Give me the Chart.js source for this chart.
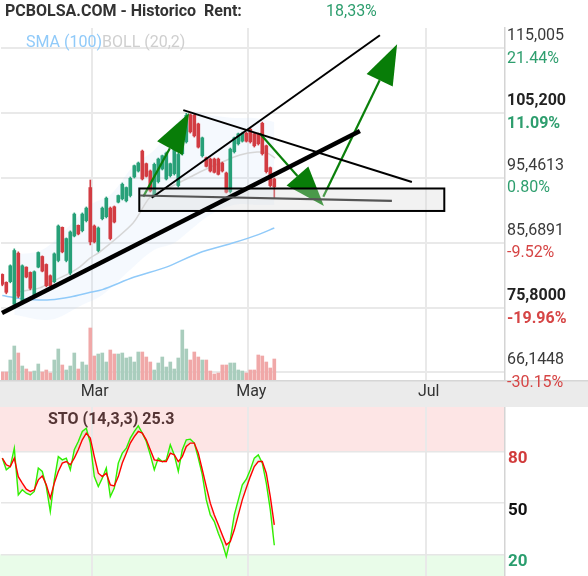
<!DOCTYPE html>
<html><head><meta charset="utf-8">
<script src="https://cdn.jsdelivr.net/npm/chart.js@4.4.1/dist/chart.umd.min.js"></script>
<style>
html,body{margin:0;padding:0;background:#fff;}
#wrap{position:relative;width:588px;height:576px;overflow:hidden;background:#fff;}
#c1{position:absolute;left:0;top:0;}
#c2{position:absolute;left:0;top:407px;}
</style></head><body>
<div id="wrap">
<canvas id="c1" width="588" height="407"></canvas>
<canvas id="c2" width="588" height="169"></canvas>
</div>
<script>
// ---------- DATA ----------
const openP  = [80.9,79.7,79.8,76.4,84.1,76.9,82.0,81.2,77.7,82.0,83.6,82.4,80.7,79.8,83.0,88.0,83.0,81.1,86.7,88.3,87.5,89.0,94.0,88.2,84.5,89.3,89.6,90.9,91.1,91.8,92.3,92.0,92.8,95.6,96.5,99.5,97.6,96.5,92.8,94.9,96.8,95.3,95.8,96.1,94.3,99.1,100.9,105.0,104.9,103.6,98.8,98.5,98.3,98.3,98.3,97.7,96.2,93.4,99.4,100.6,101.0,102.2,102.8,102.1,102.1,103.7,100.3,97.0,95.3];
const highP  = [80.98,79.78,82.34,84.75,84.30,82.34,82.04,81.28,81.43,84.30,83.69,82.49,80.83,84.15,88.36,88.06,86.40,87.46,90.17,88.36,90.17,91.07,95.14,88.36,88.06,91.07,92.58,91.07,91.22,92.88,94.69,94.09,95.59,97.40,97.85,99.66,97.70,96.65,97.70,98.45,98.90,99.36,97.70,99.96,99.21,102.22,105.20,105.10,105.05,103.72,101.62,98.60,98.45,98.45,98.45,97.85,96.34,99.96,101.62,102.22,102.37,102.37,102.97,102.22,102.22,103.87,100.41,97.10,95.44];
const lowP   = [79.18,77.97,79.63,75.80,77.37,76.62,80.38,78.57,77.52,81.89,81.28,79.03,79.03,79.63,82.79,84.15,82.79,80.83,86.56,86.86,87.31,88.81,85.35,85.65,84.30,89.12,89.42,86.10,88.66,91.68,92.13,91.83,92.58,95.44,96.34,95.14,95.59,93.33,92.58,94.69,96.65,95.14,95.59,95.89,94.09,98.90,100.71,102.22,101.62,99.96,98.60,97.10,96.34,96.19,95.89,96.34,93.18,93.18,99.21,100.41,100.86,100.86,100.71,100.11,100.41,98.90,96.19,94.09,92.43];
const closeP = [79.4,78.2,82.2,84.5,77.6,82.2,80.5,78.8,81.3,84.2,81.4,79.2,79.2,84.0,88.2,84.3,86.3,87.3,90.0,87.0,90.0,90.9,85.8,85.8,87.9,90.9,92.4,86.3,88.8,92.8,94.5,94.0,95.4,97.3,97.7,95.3,95.7,93.5,97.5,98.3,98.8,99.2,97.6,99.8,99.0,102.1,104.9,102.4,101.8,100.1,101.5,97.2,96.5,96.3,96.0,96.5,93.3,99.8,101.5,102.1,102.2,101.0,100.9,100.3,100.6,99.1,96.4,94.3,94.1];
const volume = [8,8,20,34,27,14,11,8,9,16,8,10,7,20,31,15,10,14,27,11,18,15,52,24,26,27,18,30,26,26,27,22,23,18,28,28,23,18,10,17,23,13,18,11,22,50,31,20,28,23,20,20,9,6,7,15,15,17,17,10,9,7,10,10,25,24,18,12,21];

const sma100X = [0,4,8,12,17,22,25,33,41,49,58,64,68];
const sma100Y = [77.7,77.3,77.07,77.07,77.5,78.2,78.6,80.5,82.0,84.1,85.7,86.9,87.9];
const bollMidX = [3,7,9.4,12,14.4,17,19.4,22,24.4,32.7,37,42,47,49.4,54.4,59.4,63.7,66.2,68.2];
const bollMidY = [78.12,78.57,78.87,79.63,80.38,81.13,82.04,83.39,84.3,88.66,92.58,94.09,95.59,96.34,97.7,98.9,99.36,99.21,98.45];
const bollUpX = [3,10,17,22,27,33,38,43,47,52,58,63,68];
const bollUpY = [83.85,84.6,88.36,91.4,92.9,97.4,99.66,103.4,105.4,104.9,104.5,104.5,103.9];
const bollLoX = [3,12,20,25,32,38,43,47,52,58,63,68];
const bollLoY = [74.8,74.06,76.3,77.8,81.6,84.6,85.65,87.6,89.9,91.4,91.4,91.4];

const stoK = [76.2,69.4,71.3,82.0,54.7,57.7,55.7,54.7,56.7,70.4,68.4,59.6,45.0,63.5,77.1,75.2,76.2,69.4,81.1,85.9,91.8,93.7,85.0,65.4,59.6,64.5,70.4,53.7,58.7,73.3,79.1,82.0,87.9,91.8,95.1,90.8,85.9,78.1,69.4,76.2,74.2,75.2,84.0,78.1,68.4,81.1,86.9,87.3,85.0,76.2,66.4,51.8,43.0,39.1,32.3,26.5,18.7,28.4,43.0,51.8,60.6,63.9,69.4,76.2,78.1,73.3,61.6,46.0,25.3];
const stoD = [76.2,72.3,71.3,76.2,65.4,61.6,58.1,56.7,57.7,63.5,65.8,60.6,52.8,61.6,68.4,73.3,74.2,72.3,76.2,81.1,86.9,90.8,87.9,77.1,67.4,65.4,67.4,60.6,60.0,65.4,73.3,79.1,85.0,88.8,91.8,90.8,86.9,81.1,75.2,74.8,74.2,74.2,79.1,78.1,74.2,77.1,83.0,85.0,85.0,79.1,69.4,59.6,49.9,43.0,37.2,31.3,25.5,27.4,34.3,43.0,51.8,58.7,65.4,71.3,74.2,74.2,67.4,53.7,37.2];

const priceTicks = [115.005,105.2,95.4613,85.6891,75.8,66.1448];
const priceTickLabels = ['115,005','105,200','95,4613','85,6891','75,8000','66,1448'];
const pctLabels = ['21.44%','11.09%','0.80%','-9.52%','-19.96%','-30.15%'];
const boldTicks = ['105,200','75,8000'];
const monthLabels = ['Mar','May','Jul'];
const monthIdx = [22.35,61.5,105.85];
const stoTicks = [80,50,20];
const stoTickLabels = ['80','50','20'];

// drawings in (candle index, price)
const thickLine = [[-0.08,75.06],[89.4,102.52]];
const thinLines = [[[37.35,92.47],[94.4,116.98]],[[45.25,105.68],[102.4,94.84]]];
const boxRange = [[34.25,93.86],[110.5,90.47]];
const greyLine = [[34.4,92.8],[97.4,91.98]];
const arrows = [[[35.25,92.63],[46.7,105.23]],[[64.4,102.17],[80.4,91.22]],[[80.25,92.62],[98.7,115.62]]];

// ---------- CHARTS ----------
Chart.defaults.font.family = 'Roboto';
const GREEN = '#27a078', RED = '#d23c42';
const idx = openP.map((_, i) => i);
const up = idx.map(i => closeP[i] >= openP[i]);
const pts = (xs, ys) => xs.map((x, i) => ({x, y: ys[i]}));

const X_MIN = -0.325, X_MAX = 125.675;

const mainPlugin = {
  id: 'mainPlugin',
  beforeDraw(chart) {
    const c = chart.ctx;
    c.save();
    c.fillStyle = '#fff'; c.fillRect(0, 0, chart.width, chart.height);
    const b = chart.chartArea.bottom;
    c.fillStyle = '#ebebeb'; c.fillRect(0, b, chart.width, chart.height - b);
    c.fillStyle = '#d6d6d6'; c.fillRect(0, b, chart.width, 1.5);
    c.restore();
  },
  afterDatasetsDraw(chart) {
    const c = chart.ctx, xs = chart.scales.x, ys = chart.scales.y;
    const P = p => [xs.getPixelForValue(p[0]), ys.getPixelForValue(p[1])];
    const line = (a, b, w, col) => {
      const A = P(a), B = P(b);
      c.beginPath(); c.moveTo(A[0], A[1]); c.lineTo(B[0], B[1]);
      c.lineWidth = w; c.strokeStyle = col; c.lineCap = 'butt'; c.stroke();
    };
    c.save();
    arrows.forEach(([a, b]) => {
      const A = P(a), B = P(b);
      const dx = B[0] - A[0], dy = B[1] - A[1], L = Math.hypot(dx, dy);
      const ux = dx / L, uy = dy / L, hl = 40, hw = 14.5;
      const bx = B[0] - ux * hl, by = B[1] - uy * hl;
      c.beginPath(); c.moveTo(A[0], A[1]); c.lineTo(bx, by);
      c.lineWidth = 2.2; c.strokeStyle = '#0a800a'; c.stroke();
      c.beginPath(); c.moveTo(B[0], B[1]);
      c.lineTo(bx - uy * hw, by + ux * hw); c.lineTo(bx + uy * hw, by - ux * hw);
      c.closePath(); c.fillStyle = '#087d08'; c.fill();
    });
    const b1 = P(boxRange[0]), b2 = P(boxRange[1]);
    c.fillStyle = 'rgba(215,215,215,0.32)';
    c.fillRect(b1[0], b1[1], b2[0] - b1[0], b2[1] - b1[1]);
    line(thickLine[0], thickLine[1], 4.5, '#000');
    thinLines.forEach(l => line(l[0], l[1], 2, '#000'));
    c.lineWidth = 2; c.strokeStyle = '#000';
    c.strokeRect(b1[0], b1[1], b2[0] - b1[0], b2[1] - b1[1]);
    line(greyLine[0], greyLine[1], 2.2, '#555');
    c.restore();
  },
  afterDraw(chart) {
    const c = chart.ctx, ys = chart.scales.y;
    c.save();
    c.textBaseline = 'middle'; c.textAlign = 'left';
    c.font = 'bold 16px Roboto'; c.fillStyle = '#333';
    c.fillText('PCBOLSA.COM - Historico  Rent:', 5, 12);
    c.font = '16px Roboto'; c.fillStyle = '#2e9e6e';
    c.fillText('18,33%', 326, 12);
    c.fillStyle = '#90caf9'; c.fillText('SMA (100)', 26, 43);
    const w = c.measureText('SMA (100)').width;
    c.fillStyle = '#cfcfcf'; c.fillText('BOLL (20,2)', 26 + w, 43);
    const rx = chart.chartArea.right + 2;
    priceTicks.forEach((v, i) => {
      const y = ys.getPixelForValue(v);
      const bold = boldTicks.includes(priceTickLabels[i]);
      c.font = (bold ? 'bold ' : '') + '16px Roboto';
      c.fillStyle = bold ? '#222' : '#3a3a3a';
      c.fillText(priceTickLabels[i], rx, y - 12);
      c.fillStyle = pctLabels[i].startsWith('-') ? '#d64545' : '#2e9e6e';
      c.fillText(pctLabels[i], rx, y + 10.5);
    });
    c.restore();
  }
};

new Chart(document.getElementById('c1'), {
  data: {
    datasets: [
      {type: 'bar', data: idx.map(i => ({x: i, y: [openP[i], closeP[i]]})),
       backgroundColor: idx.map(i => up[i] ? GREEN : RED), barThickness: 3, grouped: false, order: 1},
      {type: 'bar', data: idx.map(i => ({x: i, y: [lowP[i], highP[i]]})),
       backgroundColor: idx.map(i => up[i] ? GREEN : RED), barThickness: 1, grouped: false, order: 2},
      {type: 'line', data: pts(sma100X, sma100Y), borderColor: '#90caf9', borderWidth: 1.5, pointRadius: 0, tension: 0.3, order: 5},
      {type: 'line', data: pts(bollMidX, bollMidY), borderColor: '#d6d6d6', borderWidth: 1.5, pointRadius: 0, tension: 0.3, order: 5},
      {type: 'bar', yAxisID: 'yv', data: idx.map(i => ({x: i, y: volume[i]})),
       backgroundColor: idx.map(i => up[i] ? '#a9cdbd' : '#f0a8a8'), barThickness: 3, grouped: false, order: 6},
      {type: 'line', data: pts(bollUpX, bollUpY), borderWidth: 0, borderColor: 'rgba(0,0,0,0)', pointRadius: 0, tension: 0.35,
       fill: '+1', backgroundColor: 'rgba(195,220,248,0.17)', order: 8},
      {type: 'line', data: pts(bollLoX, bollLoY), borderWidth: 0, borderColor: 'rgba(0,0,0,0)', pointRadius: 0, tension: 0.35, fill: false, order: 8}
    ]
  },
  options: {
    responsive: false, animation: false, events: [],
    layout: {padding: {top: 28, left: 1, right: 0, bottom: 0}},
    plugins: {legend: {display: false}, tooltip: {enabled: false}},
    scales: {
      x: {type: 'linear', min: X_MIN, max: X_MAX, offset: false,
          afterBuildTicks: s => { s.ticks = monthIdx.map(v => ({value: v})); },
          ticks: {callback: (v, i) => monthLabels[i], font: {size: 16}, color: '#333', padding: 2, labelOffset: 3, maxRotation: 0, autoSkip: false},
          grid: {color: '#e9e9e9', lineWidth: 2, drawTicks: false, offset: false},
          border: {display: false},
          afterFit: s => { s.height = 27; }},
      y: {position: 'right', min: 64.97, max: 118.07,
          afterBuildTicks: s => { s.ticks = priceTicks.map(v => ({value: v})); },
          ticks: {display: false},
          grid: {color: '#e9e9e9', lineWidth: 2, drawTicks: false},
          border: {display: true, color: '#d4d4d4', width: 1.5},
          afterFit: s => { s.width = 83; }},
      yv: {display: false, min: 0, max: 352}
    }
  },
  plugins: [mainPlugin]
});

const stoPlugin = {
  id: 'stoPlugin',
  beforeDraw(chart) {
    const c = chart.ctx, ys = chart.scales.y, a = chart.chartArea;
    c.save();
    c.fillStyle = '#fff'; c.fillRect(0, 0, chart.width, chart.height);
    const y80 = ys.getPixelForValue(80), y20 = ys.getPixelForValue(20);
    c.fillStyle = '#fde5e5'; c.fillRect(a.left - 1, a.top, a.right - a.left + 1, y80 - a.top);
    c.fillStyle = '#e9fce9'; c.fillRect(a.left - 1, y20, a.right - a.left + 1, a.bottom - y20);
    c.restore();
  },
  afterDraw(chart) {
    const c = chart.ctx, ys = chart.scales.y;
    c.save();
    c.textAlign = 'left'; c.textBaseline = 'middle';
    c.font = 'bold 16px Roboto'; c.fillStyle = '#553535';
    c.fillText('STO (14,3,3) ' + stoK[stoK.length - 1].toFixed(1), 48, 13);
    const cols = ['#d13b3b', '#111', '#2a9d6e'];
    c.textBaseline = 'top'; c.font = 'bold 17px Roboto';
    stoTicks.forEach((v, i) => {
      c.fillStyle = cols[i];
      c.fillText(stoTickLabels[i], chart.chartArea.right + 3, ys.getPixelForValue(v) - 1);
    });
    c.restore();
  }
};

new Chart(document.getElementById('c2'), {
  type: 'line',
  data: {
    datasets: [
      {data: idx.map(i => ({x: i, y: stoK[i]})), borderColor: '#2ef000', borderWidth: 1.4, pointRadius: 0,
       fill: {target: 1, above: 'rgba(60,230,60,0.14)', below: 'rgba(255,60,60,0.14)'}, order: 2},
      {data: idx.map(i => ({x: i, y: stoD[i]})), borderColor: '#ff0000', borderWidth: 1.4, pointRadius: 0, fill: false, order: 1}
    ]
  },
  options: {
    responsive: false, animation: false, events: [],
    layout: {padding: {top: 0, left: 1, right: 0, bottom: 0}},
    plugins: {legend: {display: false}, tooltip: {enabled: false}},
    scales: {
      x: {type: 'linear', min: X_MIN, max: X_MAX, offset: false,
          afterBuildTicks: s => { s.ticks = monthIdx.map(v => ({value: v})); },
          ticks: {display: false},
          grid: {color: '#e9e9e9', lineWidth: 2, drawTicks: false},
          border: {display: false},
          afterFit: s => { s.height = 0; }},
      y: {position: 'right', min: 7.3, max: 106.1,
          afterBuildTicks: s => { s.ticks = stoTicks.map(v => ({value: v})); },
          ticks: {display: false},
          grid: {color: '#e6e6e6', lineWidth: 1.5, drawTicks: false},
          border: {display: true, color: '#d4d4d4', width: 1.5},
          afterFit: s => { s.width = 83; }}
    }
  },
  plugins: [stoPlugin]
});
</script>
</body></html>
